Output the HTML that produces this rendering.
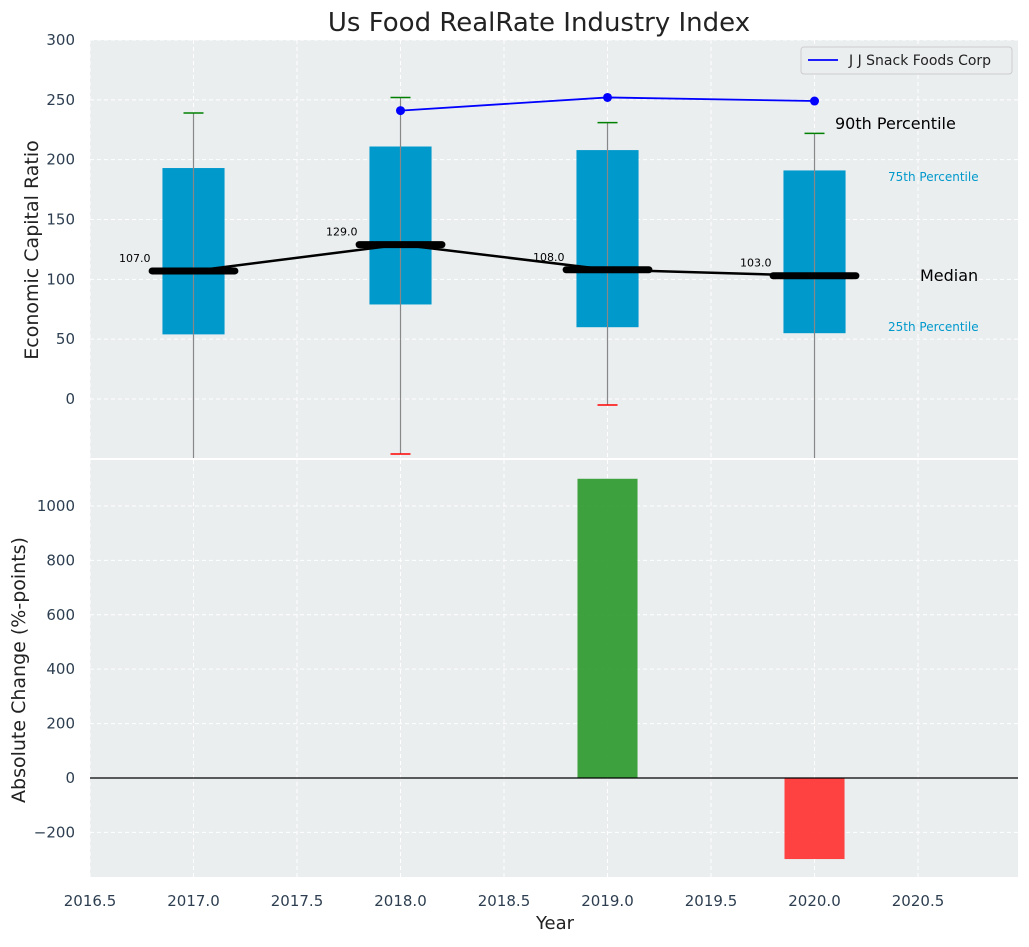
<!DOCTYPE html>
<html><head><meta charset="utf-8"><style>
body{margin:0;background:#fff;}
svg{font-family:"DejaVu Sans","Liberation Sans",sans-serif;}
</style></head><body>
<svg id="chart" width="1029" height="942"></svg>
<script>
const years=[2017,2018,2019,2020];
const q1=[54,79,60,55];
const q3=[193,211,208,191];
const medians=[107,129,108,103];
const whiskHi=[239,252,231,222];
const whiskLo=[-60,-46,-5,-60];
const compYears=[2018,2019,2020];
const compVals=[241,252,249];
const changeYears=[2019,2020];
const changeVals=[1100,-298];
const xTicks=[2016.5,2017.0,2017.5,2018.0,2018.5,2019.0,2019.5,2020.0,2020.5];
const yTopTicks=[0,50,100,150,200,250,300];
const yBotTicks=[-200,0,200,400,600,800,1000];

const NS="http://www.w3.org/2000/svg";
const svg=document.getElementById('chart');
function mk(tag,attrs,parent,text){const e=document.createElementNS(NS,tag);for(const k in attrs)e.setAttribute(k,attrs[k]);if(text!==undefined)e.textContent=text;(parent||svg).appendChild(e);return e;}
const L=90,R=1018;
const x=v=>L+(v-2016.5)/(2020.983-2016.5)*(R-L);
const T1=40,B1=458,T2=460,B2=877;
const y1=v=>T1+(300-v)/(300-(-49.3))*(B1-T1);
const y2=v=>T2+(1169-v)/(1169-(-364))*(B2-T2);

let e;
e=mk('rect',{x:L,y:T1,width:R-L,height:B1-T1,fill:'#eaeeef'});

e=mk('rect',{x:L,y:T2,width:R-L,height:B2-T2,fill:'#eaeeef'});


xTicks.forEach(t=>{
  e=mk('line',{x1:x(t),x2:x(t),y1:T1,y2:B1,stroke:'#fff','stroke-dasharray':'4,3','stroke-width':1});
  
  e=mk('line',{x1:x(t),x2:x(t),y1:T2,y2:B2,stroke:'#fff','stroke-dasharray':'4,3','stroke-width':1});
  
  e=mk('text',{x:x(t),y:906,'text-anchor':'middle','font-size':15,fill:'#2d3e50'},null,t.toFixed(1));
  
});
yTopTicks.forEach(t=>{
  e=mk('line',{x1:L,x2:R,y1:y1(t),y2:y1(t),stroke:'#fff','stroke-dasharray':'4,3'});
  
  e=mk('text',{x:75,y:y1(t)+5,'text-anchor':'end','font-size':15,fill:'#2d3e50'},null,t);
  
});
yBotTicks.forEach(t=>{
  e=mk('line',{x1:L,x2:R,y1:y2(t),y2:y2(t),stroke:'#fff','stroke-dasharray':'4,3'});
  
  e=mk('text',{x:75,y:y2(t)+5,'text-anchor':'end','font-size':15,fill:'#2d3e50'},null,t<0?'\u2212'+(-t):t);
  
});

const bw=0.3;
years.forEach((yr,i)=>{
  e=mk('rect',{x:x(yr-bw/2),y:y1(q3[i]),width:x(yr+bw/2)-x(yr-bw/2),height:y1(q1[i])-y1(q3[i]),fill:'#0099cc'});
  
  const lo=Math.max(whiskLo[i],-49.3);
  e=mk('line',{x1:x(yr),x2:x(yr),y1:y1(whiskHi[i]),y2:y1(lo),stroke:'#888','stroke-width':1.2});
  
  e=mk('line',{x1:x(yr)-10,x2:x(yr)+10,y1:y1(whiskHi[i]),y2:y1(whiskHi[i]),stroke:'green','stroke-width':1.5});
  
  if(whiskLo[i]>-49.3){
    e=mk('line',{x1:x(yr)-10,x2:x(yr)+10,y1:y1(whiskLo[i]),y2:y1(whiskLo[i]),stroke:'red','stroke-width':1.5});
    
  }
});
e=mk('polyline',{points:years.map((yr,i)=>x(yr)+','+y1(medians[i])).join(' '),fill:'none',stroke:'#000','stroke-width':2.5});

years.forEach((yr,i)=>{
  e=mk('line',{x1:x(yr-0.2),x2:x(yr+0.2),y1:y1(medians[i]),y2:y1(medians[i]),stroke:'#000','stroke-width':7,'stroke-linecap':'round'});
  
  e=mk('text',{x:x(yr)-43,y:y1(medians[i])-9,'text-anchor':'end','font-size':11,fill:'#000'},null,medians[i].toFixed(1));
  
});
e=mk('polyline',{points:compYears.map((yr,i)=>x(yr)+','+y1(compVals[i])).join(' '),fill:'none',stroke:'blue','stroke-width':1.8});

compYears.forEach((yr,i)=>{
  e=mk('circle',{cx:x(yr),cy:y1(compVals[i]),r:4.5,fill:'blue'});
  
});
e=mk('text',{x:835,y:129,'font-size':16,fill:'#000'},null,'90th Percentile');

e=mk('text',{x:888,y:181,'font-size':12,fill:'#0099cc'},null,'75th Percentile');

e=mk('text',{x:920,y:281,'font-size':16,fill:'#000'},null,'Median');

e=mk('text',{x:888,y:331,'font-size':12,fill:'#0099cc'},null,'25th Percentile');

const lg=mk('g',{});

mk('rect',{x:801,y:47,width:211,height:27,rx:3,fill:'#eaeeef',stroke:'#ccc'},lg);
mk('line',{x1:808,x2:838,y1:60,y2:60,stroke:'blue','stroke-width':1.8},lg);
e=mk('text',{x:849,y:65,'font-size':14,fill:'#222'},lg,'J J Snack Foods Corp');


changeVals.forEach((v,i)=>{
  const yr=changeYears[i];
  const top=y2(Math.max(v,0)),bot=y2(Math.min(v,0));
  e=mk('rect',{x:x(yr-0.145),y:top,width:x(yr+0.145)-x(yr-0.145),height:bot-top,fill:v>=0?'#2e9a2e':'#ff3333','fill-opacity':0.92});
  
});
e=mk('line',{x1:L,x2:R,y1:y2(0),y2:y2(0),stroke:'#000','stroke-width':1.2});


e=mk('text',{x:539,y:31,'text-anchor':'middle','font-size':26,fill:'#222'},null,'Us Food RealRate Industry Index');

e=mk('text',{x:555,y:929,'text-anchor':'middle','font-size':18,fill:'#222'},null,'Year');

e=mk('text',{x:0,y:0,'text-anchor':'middle','font-size':19,fill:'#222',transform:'translate(38,250) rotate(-90)'},null,'Economic Capital Ratio');

e=mk('text',{x:0,y:0,'text-anchor':'middle','font-size':19,fill:'#222',transform:'translate(25,670) rotate(-90)'},null,'Absolute Change (%-points)');

</script>
</body></html>
